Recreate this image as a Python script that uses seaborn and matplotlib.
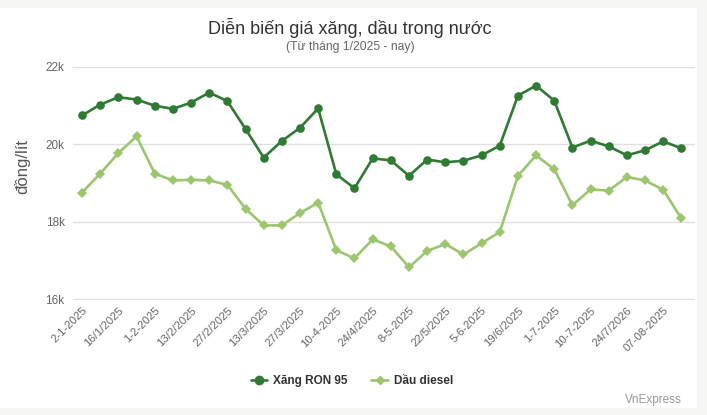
import matplotlib
matplotlib.use("Agg")
import matplotlib.pyplot as plt
import seaborn as sns
import pandas as pd
from matplotlib.patches import Rectangle
from matplotlib.lines import Line2D
from matplotlib.ticker import FuncFormatter

dates = ["2-1-2025", "", "16/1/2025", "", "1-2-2025", "", "13/2/2025", "", "27/2/2025", "",
         "13/3/2025", "", "27/3/2025", "", "10-4-2025", "", "24/4/2025", "", "8-5-2025", "",
         "22/5/2025", "", "5-6-2025", "", "19/6/2025", "", "1-7-2025", "", "10-7-2025", "",
         "24/7/2026", "", "07-08-2025", ""]
ron95 = [20750, 21030, 21220, 21160, 21000, 20920, 21080, 21340, 21120, 20400,
         19660, 20090, 20430, 20930, 19230, 18870, 19640, 19590, 19190, 19610,
         19540, 19580, 19720, 19970, 21260, 21520, 21130, 19920, 20100, 19950,
         19720, 19850, 20080, 19900]
diesel = [18760, 19250, 19780, 20210, 19250, 19070, 19090, 19070, 18960, 18340,
          17910, 17910, 18230, 18500, 17270, 17060, 17550, 17370, 16830, 17250,
          17430, 17160, 17450, 17740, 19190, 19720, 19360, 18430, 18840, 18810,
          19160, 19070, 18830, 18090]
series_names = ["Xăng RON 95", "Dầu diesel"]
colors = ["#2f7a34", "#9cc66e"]

n = len(ron95)
df = pd.DataFrame({
    "idx": list(range(n)) * 2,
    "price": ron95 + diesel,
    "series": [series_names[0]] * n + [series_names[1]] * n,
})

sns.set_theme(style="white")
plt.rcParams['font.family'] = ['Liberation Sans', 'DejaVu Sans']

fig = plt.figure(figsize=(7.07, 4.15), dpi=100)
fig.patch.set_facecolor("#f6f6f4")
fig.patches.append(Rectangle((0, 7 / 415), 697 / 707, 1 - 15 / 415,
                             transform=fig.transFigure, facecolor="white",
                             edgecolor="none", zorder=-10))
ax = fig.add_axes([73 / 707, 1 - 300 / 415, (695 - 73) / 707, (300 - 67) / 415])
ax.set_facecolor("white")

sns.lineplot(data=df, x="idx", y="price", hue="series", style="series",
             palette=colors, markers={series_names[0]: "o", series_names[1]: "D"},
             dashes=False, linewidth=1.9, markeredgewidth=0,
             ax=ax, legend=False)
for line, ms in zip(ax.lines, [6.2, 4.6]):
    line.set_markersize(ms)

ax.set_xlim(-0.5, n - 0.25)
ax.set_ylim(15985, 22000)
ax.set_yticks([16000, 18000, 20000, 22000])
ax.yaxis.set_major_formatter(FuncFormatter(lambda v, p: f"{int(v/1000)}k"))
ax.set_xticks(range(0, n, 2))
ax.set_xticklabels([d for d in dates[0::2]], rotation=45, ha="right",
                   rotation_mode="anchor", fontsize=8.2, color="#666666")
ax.tick_params(axis="y", labelsize=8.5, labelcolor="#666666", length=0, pad=6)
ax.tick_params(axis="x", length=0, pad=4)
ax.grid(axis="y", color="#e0e0e0", linewidth=1)
for s in ax.spines.values():
    s.set_visible(False)
ax.set_xlabel("")
ax.set_ylabel("")
fig.text(22 / 707, 1 - 166 / 415, "đồng/lít", rotation=90, ha="center", va="center",
         fontsize=12, color="#555555")

fig.text(350 / 707, 1 - 28 / 415, "Diễn biến giá xăng, dầu trong nước",
         ha="center", va="center", fontsize=13, color="#333333")
fig.text(350 / 707, 1 - 47 / 415, "(Từ tháng 1/2025 - nay)",
         ha="center", va="center", fontsize=8.7, color="#666666")

handles = [Line2D([], [], color=colors[0], marker="o", markersize=6, linewidth=1.9),
           Line2D([], [], color=colors[1], marker="D", markersize=4.5, linewidth=1.9)]
leg = fig.legend(handles, series_names, loc="center", bbox_to_anchor=(352 / 707, 1 - 381 / 415),
                 ncol=2, frameon=False, handlelength=1.4, columnspacing=2.0,
                 handletextpad=0.5, prop={"weight": "bold", "size": 8.5})
for t in leg.get_texts():
    t.set_color("#333333")

fig.text(682 / 707, 1 - 400 / 415, "VnExpress", ha="right", va="center",
         fontsize=8.5, color="#999999")

fig.savefig("out.png", dpi=100, facecolor=fig.get_facecolor())
